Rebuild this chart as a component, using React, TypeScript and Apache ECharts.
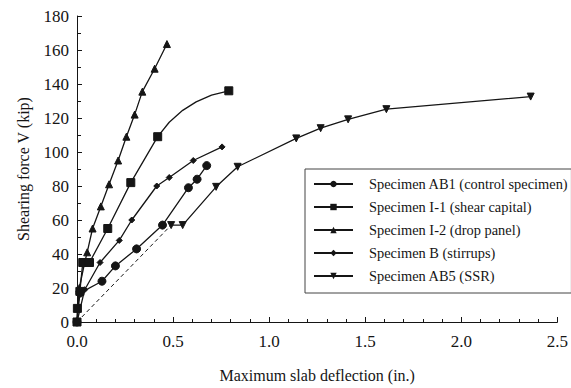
import React, { useEffect, useRef } from "react";
import * as echarts from "echarts";

// Legend labels, in drawing order
const specimenNames = [
  "Specimen AB1 (control specimen)",
  "Specimen I-1 (shear capital)",
  "Specimen I-2 (drop panel)",
  "Specimen B (stirrups)",
  "Specimen AB5 (SSR)",
];

// [maximum slab deflection (in.), shearing force (kip)]
const ab1Points = [
  [0, 0], [0.015, 17], [0.13, 24], [0.2, 33], [0.31, 43],
  [0.445, 57], [0.58, 79], [0.625, 84], [0.675, 92],
];
const i1Points = [
  [0, 0], [0.002, 8], [0.015, 18], [0.03, 35], [0.065, 35],
  [0.16, 55], [0.28, 82], [0.42, 109], [0.79, 136],
];
// unmarked points along the smooth run of I-1 after 0.42 in.
const i1CurvePoints = [[0.48, 117.5], [0.55, 124.5], [0.62, 129.5], [0.7, 133.5]];
const i2Points = [
  [0, 0], [0.012, 20], [0.04, 35], [0.053, 41], [0.081, 55], [0.124, 68],
  [0.167, 81], [0.214, 95], [0.257, 109], [0.3, 122], [0.34, 135.5],
  [0.404, 149], [0.468, 163.5],
];
const bPoints = [
  [0, 0], [0.04, 19], [0.12, 35], [0.22, 48], [0.285, 60],
  [0.415, 80], [0.48, 85], [0.605, 95], [0.755, 103],
];
const ab5Points = [
  [0.49, 57], [0.55, 57], [0.724, 79.5], [0.836, 91.3], [1.141, 108],
  [1.268, 114], [1.411, 119.2], [1.61, 125.2], [2.361, 132.6],
];
// initial branch of AB5, drawn dashed
const ab5InitialPoints = [[0, 0], [0.49, 57]];

const xTicks = { min: 0, max: 2.5, interval: 0.5 };
const yTicks = { min: 0, max: 180, interval: 20 };

const FONT = "'Liberation Serif', 'Times New Roman', serif";
const INK = "#151515";

export default function App() {
  const ref = useRef<HTMLDivElement>(null);

  useEffect(() => {
    if (!ref.current) return;
    const chart = echarts.init(ref.current, undefined, { renderer: "svg" });

    const i1Data = [
      ...i1Points.map((p) => ({ value: p })),
      ...i1CurvePoints.map((p) => ({ value: p, symbol: "none" })),
    ].sort((a, b) => a.value[0] - b.value[0]);

    const lineBase = {
      type: "line" as const,
      lineStyle: { color: INK, width: 1.3 },
      itemStyle: { color: INK, borderColor: INK },
      z: 3,
    };

    chart.setOption({
      animation: false,
      backgroundColor: "#ffffff",
      grid: { left: 77, right: 12, top: 16, bottom: 63 },
      xAxis: {
        type: "value",
        ...xTicks,
        name: "Maximum slab deflection (in.)",
        nameLocation: "middle",
        nameGap: 45,
        nameTextStyle: { fontFamily: FONT, fontSize: 16, color: INK },
        axisLine: { show: true, lineStyle: { color: INK, width: 1 } },
        axisTick: { show: true, inside: true, length: 5, lineStyle: { color: INK } },
        minorTick: { show: true, splitNumber: 5, length: 3, lineStyle: { color: INK } },
        axisLabel: {
          fontFamily: FONT,
          fontSize: 17,
          color: INK,
          margin: 11,
          formatter: (v: number) => v.toFixed(1),
        },
        splitLine: { show: false },
      },
      yAxis: {
        type: "value",
        ...yTicks,
        name: "Shearing force V (kip)",
        nameLocation: "middle",
        nameGap: 46,
        nameTextStyle: { fontFamily: FONT, fontSize: 16, color: INK },
        axisLine: { show: true, lineStyle: { color: INK, width: 1 } },
        axisTick: { show: true, inside: true, length: 5, lineStyle: { color: INK } },
        minorTick: { show: true, splitNumber: 2, length: 4, lineStyle: { color: INK } },
        axisLabel: { fontFamily: FONT, fontSize: 17, color: INK, margin: 8 },
        splitLine: { show: false },
      },
      legend: {
        data: specimenNames,
        orient: "vertical",
        left: 305,
        top: 169,
        padding: [8, 3, 10, 8],
        itemWidth: 39,
        itemHeight: 8,
        itemGap: 9,
        borderColor: "#444",
        borderWidth: 1,
        textStyle: {
          fontFamily: FONT,
          fontSize: 14.4,
          color: INK,
          padding: [0, 0, 0, 11],
        },
      },
      series: [
        {
          ...lineBase,
          name: "AB5 initial branch",
          data: ab5InitialPoints,
          symbol: "none",
          lineStyle: { color: INK, width: 1, type: [4, 3] },
          z: 2,
        },
        {
          ...lineBase,
          name: specimenNames[0],
          data: ab1Points,
          symbol: "circle",
          symbolSize: 8,
        },
        {
          ...lineBase,
          name: specimenNames[2],
          data: i2Points,
          symbol: "triangle",
          symbolSize: 7,
        },
        {
          ...lineBase,
          name: specimenNames[3],
          data: bPoints,
          symbol: "diamond",
          symbolSize: 6,
        },
        {
          ...lineBase,
          name: specimenNames[4],
          data: ab5Points,
          symbol: "triangle",
          symbolRotate: 180,
          symbolSize: 7,
        },
        {
          ...lineBase,
          name: specimenNames[1],
          data: i1Data,
          symbol: "rect",
          symbolSize: 8,
          z: 4,
        },
      ],
    });

    return () => chart.dispose();
  }, []);

  return (
    <div
      ref={ref}
      style={{ position: "fixed", left: 0, top: 0, width: 571, height: 388 }}
    />
  );
}
